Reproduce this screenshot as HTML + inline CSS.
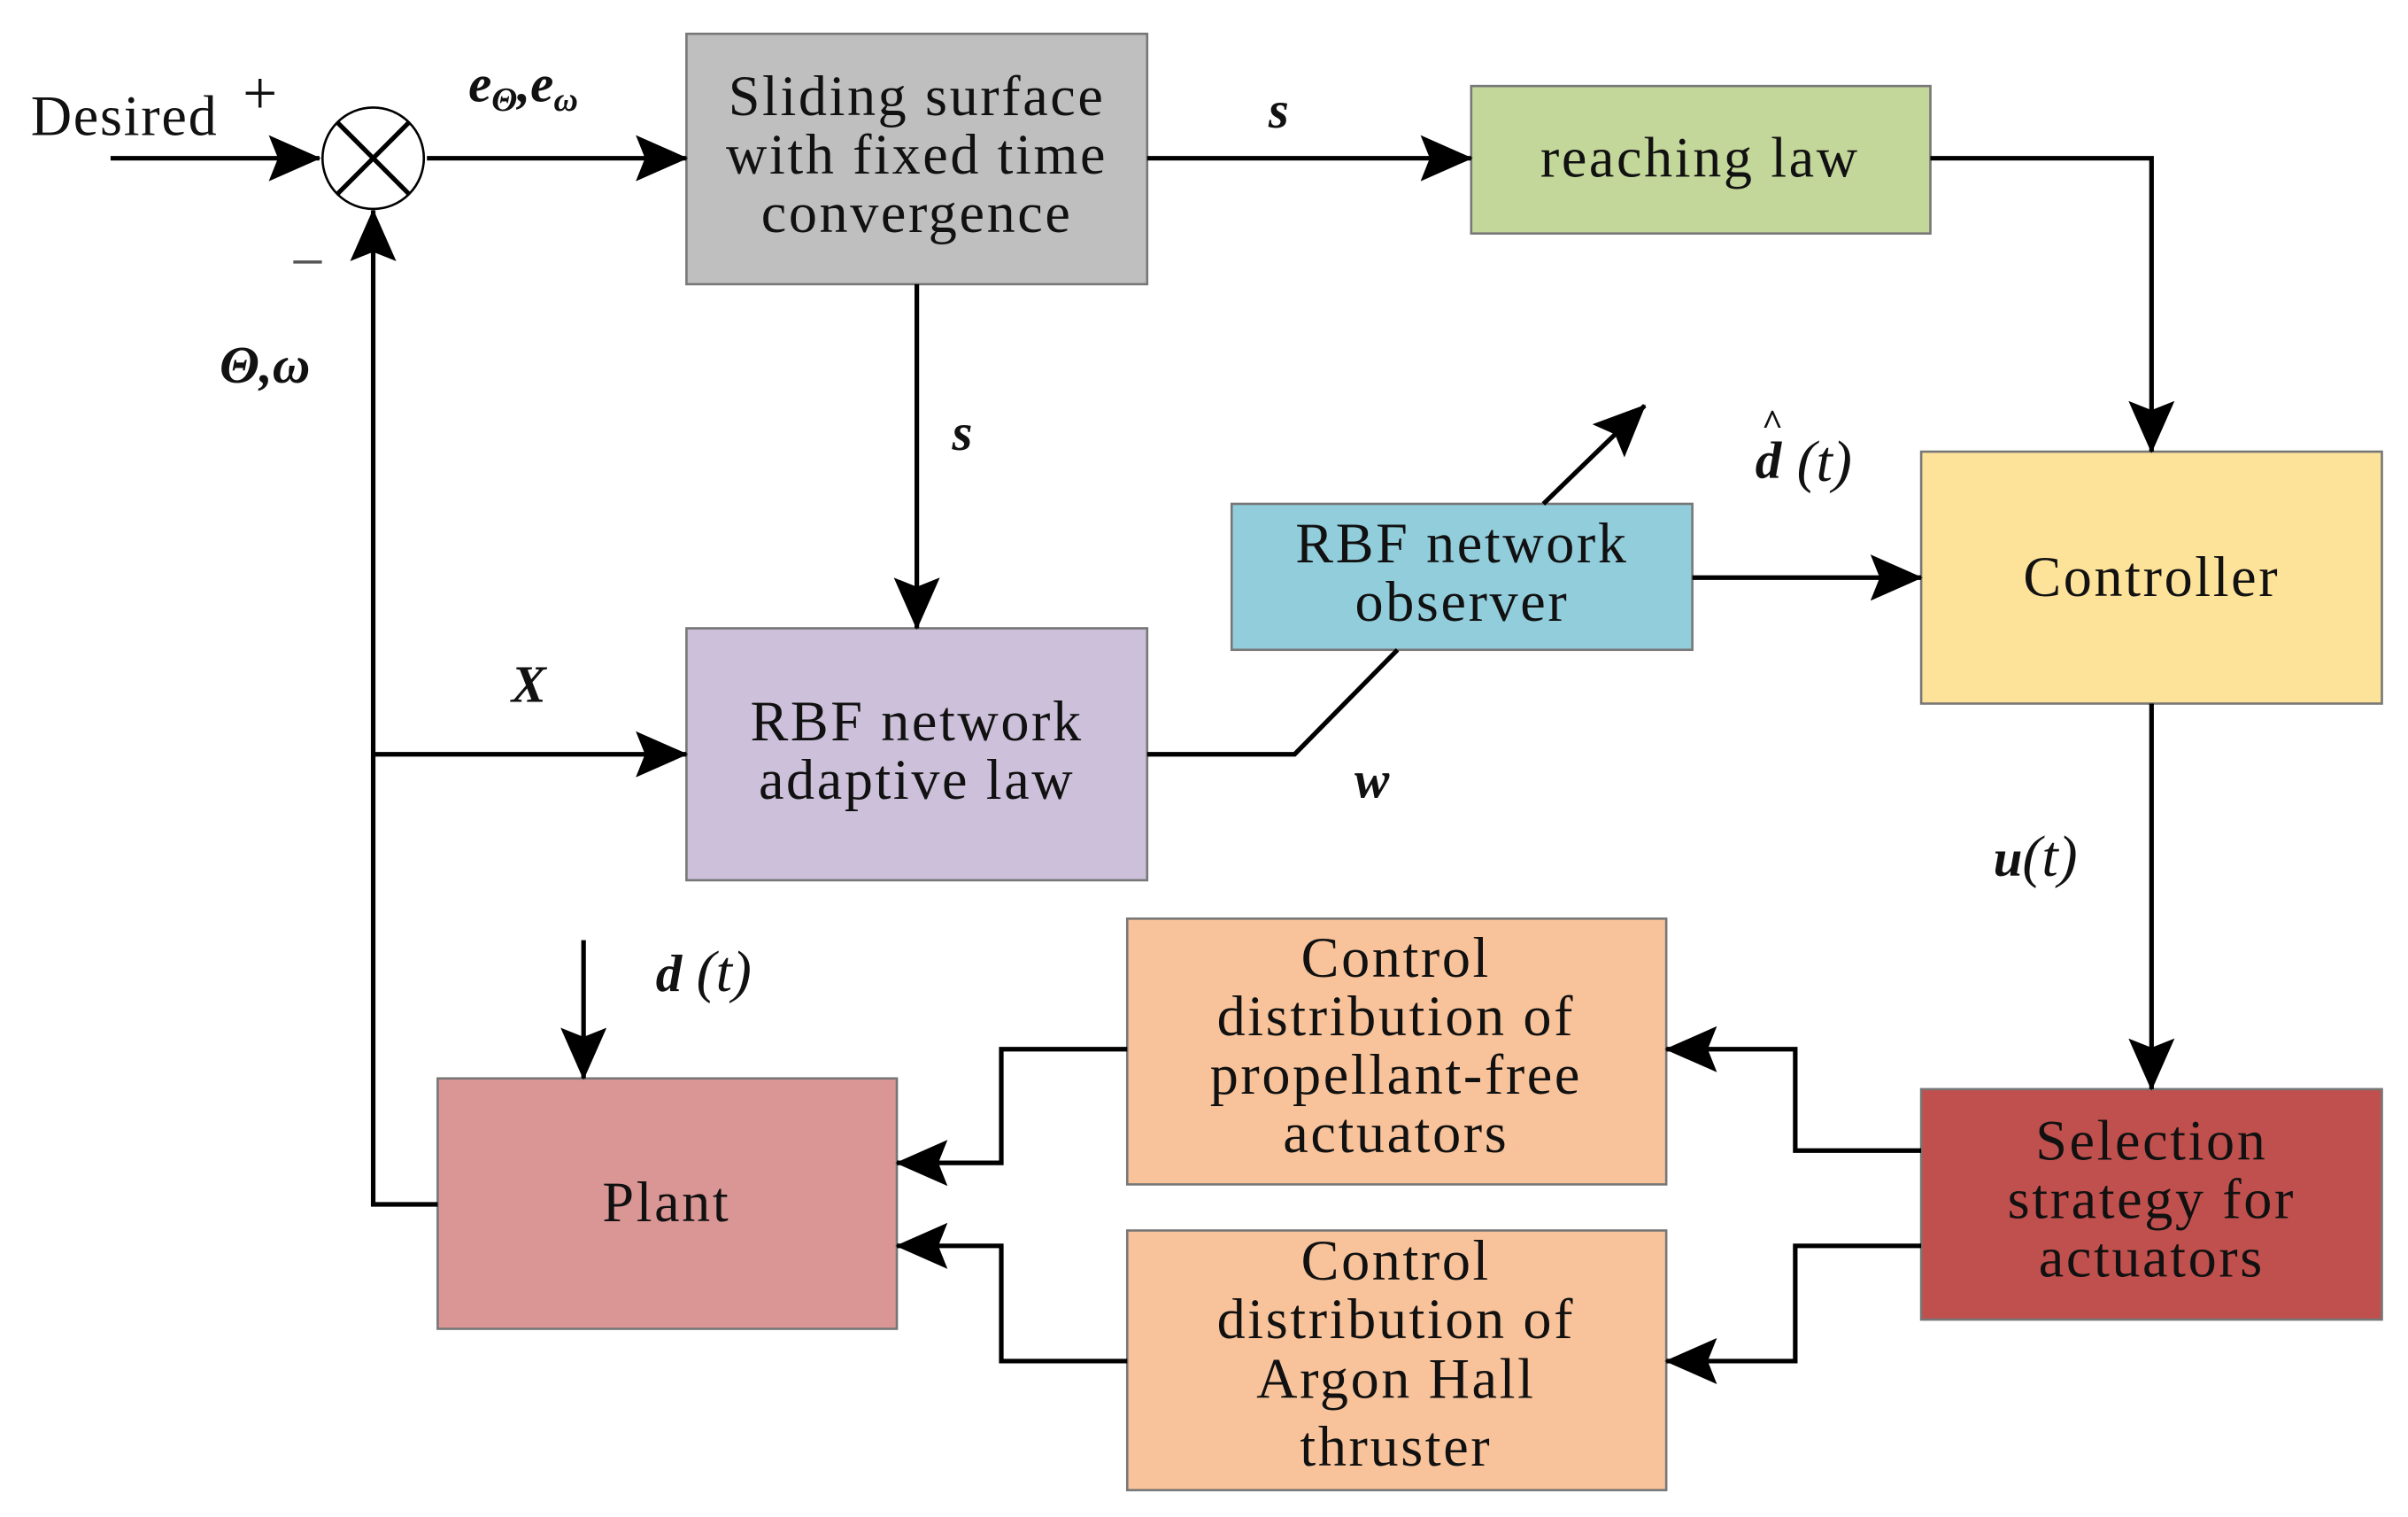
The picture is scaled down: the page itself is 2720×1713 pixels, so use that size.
<!DOCTYPE html>
<html><head><meta charset="utf-8"><style>
html,body{margin:0;padding:0;background:#fff;width:2720px;height:1713px;overflow:hidden}
svg{display:block}
text{font-family:"Liberation Serif",serif;fill:#111}
.b{font-size:37px;text-anchor:middle;letter-spacing:1.5px}
.m{font-style:italic;font-weight:bold;font-size:34px}
</style></head><body>
<svg width="2720" height="1713" viewBox="0 0 1568 987.5" preserveAspectRatio="none">
<defs>
<marker id="A" markerWidth="34" markerHeight="30" refX="33" refY="15" orient="auto" markerUnits="userSpaceOnUse" viewBox="0 0 34 30"><path d="M0,0 L34,15 L0,30 L6,15 Z" fill="#000"/></marker></defs>
<g stroke="#777" stroke-width="1.5">
<rect x="447" y="22" width="300" height="163" fill="#bfbfbf"/>
<rect x="958" y="56" width="299" height="96" fill="#c4d79b"/>
<rect x="802" y="328" width="300" height="95" fill="#92cddc"/>
<rect x="1251" y="294" width="300" height="164" fill="#fde29a"/>
<rect x="447" y="409" width="300" height="164" fill="#ccc0da"/>
<rect x="734" y="598" width="351" height="173" fill="#f8c39a"/>
<rect x="734" y="801" width="351" height="169" fill="#f8c39a"/>
<rect x="1251" y="709" width="300" height="150" fill="#c0504d"/>
<rect x="285" y="702" width="299" height="163" fill="#da9694"/>
</g>
<g stroke="#000" stroke-width="3" fill="none">
<path d="M72,103 H208" marker-end="url(#A)"/>
<path d="M278,103 H447" marker-end="url(#A)"/>
<path d="M747,103 H958" marker-end="url(#A)"/>
<path d="M1257,103 H1401 V294" marker-end="url(#A)"/>
<path d="M597,185 V409" marker-end="url(#A)"/>
<path d="M285,784 H243 V137" marker-end="url(#A)"/>
<path d="M243,491 H447" marker-end="url(#A)"/>
<path d="M747,491 H843 L910,423"/>
<path d="M1005,328 L1071,264" marker-end="url(#A)"/>
<path d="M1102,376 H1251" marker-end="url(#A)"/>
<path d="M1401,458 V709" marker-end="url(#A)"/>
<path d="M1251,749 H1169 V683 H1085" marker-end="url(#A)"/>
<path d="M1251,811 H1169 V886 H1085" marker-end="url(#A)"/>
<path d="M734,683 H652 V757 H584" marker-end="url(#A)"/>
<path d="M734,886 H652 V811 H584" marker-end="url(#A)"/>
<path d="M380,612 V702" marker-end="url(#A)"/>
</g>
<ellipse cx="243" cy="103" rx="33" ry="33" fill="#fff" stroke="#000" stroke-width="1.5"/>
<path d="M220,80 L266,126 M266,80 L220,126" stroke="#000" stroke-width="3"/>
<text class="b" x="597" y="75">Sliding surface</text>
<text class="b" x="597" y="113">with fixed time</text>
<text class="b" x="597" y="151">convergence</text>
<text class="b" x="1107" y="115">reaching law</text>
<text class="b" x="952" y="366">RBF network</text>
<text class="b" x="952" y="404">observer</text>
<text class="b" x="1401" y="388">Controller</text>
<text class="b" x="597" y="482">RBF network</text>
<text class="b" x="597" y="520">adaptive law</text>
<text class="b" x="909" y="636">Control</text>
<text class="b" x="909" y="674">distribution of</text>
<text class="b" x="909" y="712">propellant-free</text>
<text class="b" x="909" y="750">actuators</text>
<text class="b" x="909" y="833">Control</text>
<text class="b" x="909" y="871">distribution of</text>
<text class="b" x="909" y="910">Argon Hall</text>
<text class="b" x="909" y="954">thruster</text>
<text class="b" x="1401" y="755">Selection</text>
<text class="b" x="1401" y="793">strategy for</text>
<text class="b" x="1401" y="831">actuators</text>
<text class="b" x="434" y="795">Plant</text>
<text x="20" y="88" style="font-size:37px;letter-spacing:1px">Desired</text>
<text x="158" y="74" style="font-size:40px">+</text>
<text x="189" y="184" style="font-size:40px;fill:#555">−</text>
<text class="m" x="305" y="66">e<tspan font-size="22" dy="6">Θ</tspan><tspan dy="-6">,e</tspan><tspan font-size="22" dy="6">ω</tspan></text>
<text class="m" x="826" y="83">s</text>
<text class="m" x="620" y="293">s</text>
<text class="m" x="143" y="249">Θ,ω</text>
<text class="m" x="333" y="457">X</text>
<text class="m" x="882" y="519">w</text>
<text class="m" x="1143" y="311">d<tspan x="1147" y="283" font-size="24">^</tspan><tspan x="1170" y="313" font-style="italic" font-weight="normal" font-size="38">(t)</tspan></text>
<text class="m" x="1298" y="570">u<tspan font-weight="normal" font-size="38">(t)</tspan></text>
<text class="m" x="427" y="645">d<tspan font-weight="normal" font-size="38"> (t)</tspan></text>
</svg>
</body></html>
